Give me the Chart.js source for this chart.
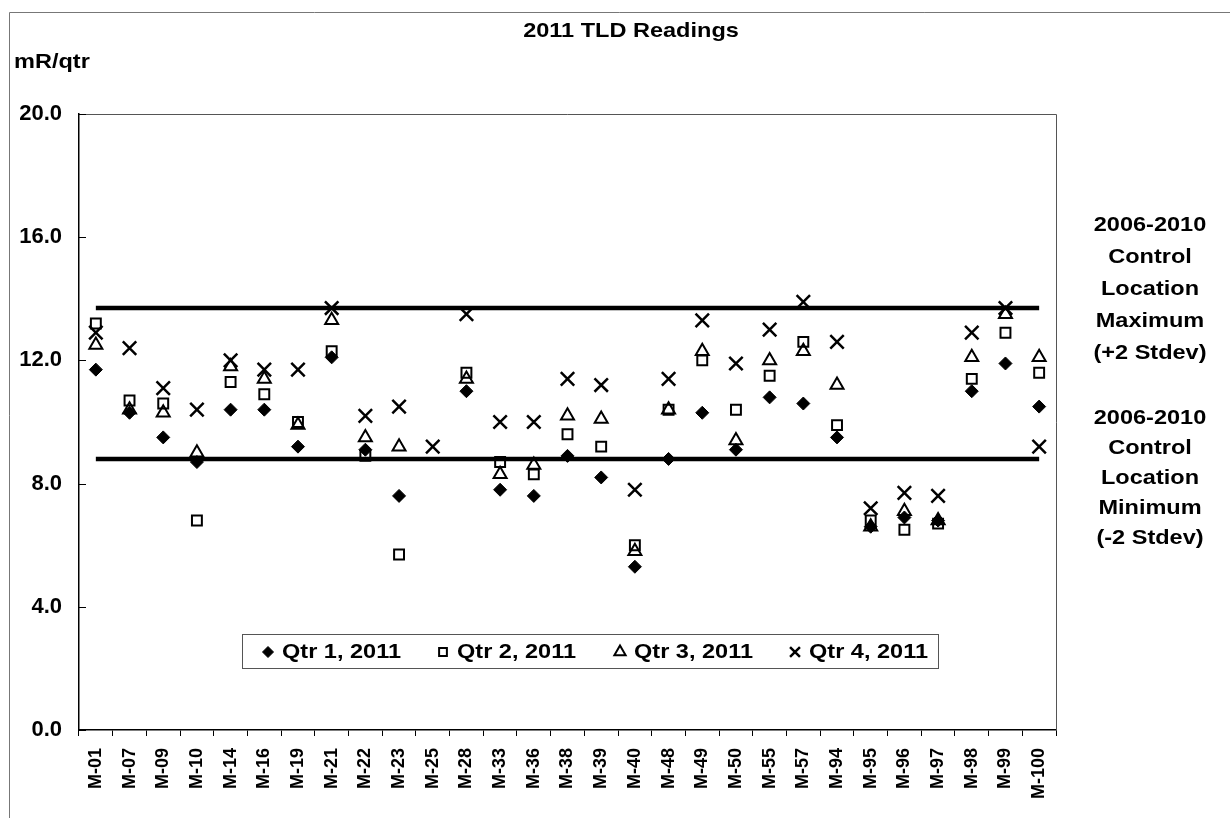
<!DOCTYPE html>
<html>
<head>
<meta charset="utf-8">
<title>2011 TLD Readings</title>
<script src="https://cdn.jsdelivr.net/npm/chart.js"></script>
<style>
    html, body { margin: 0; padding: 0; background: #fff; }
    #wrap { width: 1230px; height: 818px; position: relative; }
</style>
</head>
<body>
<div id="wrap"><canvas id="tldChart"></canvas></div>
<script>
var locations = ['M-01', 'M-07', 'M-09', 'M-10', 'M-14', 'M-16', 'M-19', 'M-21', 'M-22', 'M-23',
    'M-25', 'M-28', 'M-33', 'M-36', 'M-38', 'M-39', 'M-40', 'M-48', 'M-49', 'M-50',
    'M-55', 'M-57', 'M-94', 'M-95', 'M-96', 'M-97', 'M-98', 'M-99', 'M-100'];
var qtr1 = [11.7, 10.3, 9.5, 8.7, 10.4, 10.4, 9.2, 12.1, 9.1, 7.6,
    null, 11.0, 7.8, 7.6, 8.9, 8.2, 5.3, 8.8, 10.3, 9.1,
    10.8, 10.6, 9.5, 6.6, 6.9, 6.8, 11.0, 11.9, 10.5];
var qtr2 = [13.2, 10.7, 10.6, 6.8, 11.3, 10.9, 10.0, 12.3, 8.9, 5.7,
    null, 11.6, 8.7, 8.3, 9.6, 9.2, 6.0, 10.4, 12.0, 10.4,
    11.5, 12.6, 9.9, 6.8, 6.5, 6.7, 11.4, 12.9, 11.6];
var qtr3 = [12.5, 10.4, 10.3, 9.0, 11.8, 11.4, 9.9, 13.3, 9.5, 9.2,
    null, 11.4, 8.3, 8.6, 10.2, 10.1, 5.8, 10.4, 12.3, 9.4,
    12.0, 12.3, 11.2, 6.6, 7.1, 6.8, 12.1, 13.5, 12.1];
var qtr4 = [12.9, 12.4, 11.1, 10.4, 12.0, 11.7, 11.7, 13.7, 10.2, 10.5,
    9.2, 13.5, 10.0, 10.0, 11.4, 11.2, 7.8, 11.4, 13.3, 11.9,
    13.0, 13.9, 12.6, 7.2, 7.7, 7.6, 12.9, 13.7, 9.2];
var controlMax = 13.7;
var controlMin = 8.8;
var yTicks = [0, 4, 8, 12, 16, 20];
var chartTitle = '2011 TLD Readings';
var unitLabel = 'mR/qtr';
var maxNote = ['2006-2010', 'Control', 'Location', 'Maximum', '(+2 Stdev)'];
var minNote = ['2006-2010', 'Control', 'Location', 'Minimum', '(-2 Stdev)'];

var fontFamily = '"Liberation Sans", Arial, sans-serif';
var boldFont = 'bold 21px ' + fontFamily;

function levelLine(v) {
    return locations.map(function () { return v; });
}

// the scan is a little wider than tall, so stretch the plain text a bit
function fillWide(ctx, text, x, y, align) {
    ctx.save();
    ctx.translate(x, y);
    ctx.scale(1.12, 1);
    ctx.textAlign = align;
    ctx.fillText(text, 0, 0);
    ctx.restore();
}

function drawMarker(ctx, ds, x, y, r) {
    var opts = { pointStyle: ds.pointStyle, radius: r, rotation: 0, borderWidth: ds.borderWidth };
    ctx.save();
    ctx.fillStyle = ds.pointBackgroundColor;
    ctx.strokeStyle = ds.pointBorderColor;
    ctx.lineWidth = ds.borderWidth;
    Chart.helpers.drawPoint(ctx, opts, x, y);
    ctx.restore();
}

var extrasPlugin = {
    id: 'extras',
    afterDraw: function (chart) {
        var ctx = chart.ctx;
        var area = chart.chartArea;
        var yScale = chart.scales.y;
        ctx.save();

        // outer frame
        ctx.strokeStyle = '#777';
        ctx.lineWidth = 1;
        ctx.beginPath();
        ctx.moveTo(9.5, 818);
        ctx.lineTo(9.5, 12.5);
        ctx.lineTo(1230, 12.5);
        ctx.stroke();

        // top and right edge of plot area
        ctx.strokeStyle = '#555';
        ctx.beginPath();
        ctx.moveTo(area.left, area.top + 0.5);
        ctx.lineTo(area.right + 0.5, area.top + 0.5);
        ctx.lineTo(area.right + 0.5, area.bottom);
        ctx.stroke();

        // y tick marks point inward
        ctx.strokeStyle = '#000';
        ctx.lineWidth = 1;
        yTicks.forEach(function (v) {
            var py = Math.round(yScale.getPixelForValue(v)) + 0.5;
            ctx.beginPath();
            ctx.moveTo(area.left, py);
            ctx.lineTo(area.left + 7, py);
            ctx.stroke();
        });

        ctx.fillStyle = '#000';
        ctx.font = boldFont;
        ctx.textBaseline = 'middle';
        fillWide(ctx, chartTitle, 631, 31, 'center');
        fillWide(ctx, unitLabel, 14, 62, 'left');

        maxNote.forEach(function (t, i) { fillWide(ctx, t, 1150, 225 + i * 32, 'center'); });
        minNote.forEach(function (t, i) { fillWide(ctx, t, 1150, 418 + i * 30, 'center'); });

        // legend box
        ctx.strokeStyle = '#555';
        ctx.lineWidth = 1;
        ctx.strokeRect(242.5, 634.5, 696, 34);
        var markX = [268, 443, 620, 795];
        var sizes = [5.5, 5.5, 6.5, 7];
        var series = chart.data.datasets.filter(function (d) { return d.inLegend; });
        series.forEach(function (ds, i) {
            drawMarker(ctx, ds, markX[i], 652, sizes[i]);
            ctx.fillStyle = '#000';
            ctx.font = boldFont;
            fillWide(ctx, ds.label, markX[i] + 14, 652, 'left');
        });
        ctx.restore();
    }
};

var ctx = document.getElementById('tldChart').getContext('2d');
var tldChart = new Chart(ctx, {
    type: 'line',
    data: {
        labels: locations,
        datasets: [{
            label: 'Qtr 1, 2011',
            data: qtr1,
            inLegend: true,
            showLine: false,
            pointStyle: 'rectRot',
            pointRadius: 6.5,
            pointBackgroundColor: '#000',
            pointBorderColor: '#000',
            borderWidth: 1
        }, {
            label: 'Qtr 2, 2011',
            data: qtr2,
            inLegend: true,
            showLine: false,
            pointStyle: 'rect',
            pointRadius: 7,
            pointBackgroundColor: 'rgba(0,0,0,0)',
            pointBorderColor: '#000',
            borderWidth: 2
        }, {
            label: 'Qtr 3, 2011',
            data: qtr3,
            inLegend: true,
            showLine: false,
            pointStyle: 'triangle',
            pointRadius: 7.5,
            pointBackgroundColor: 'rgba(0,0,0,0)',
            pointBorderColor: '#000',
            borderWidth: 2
        }, {
            label: 'Qtr 4, 2011',
            data: qtr4,
            inLegend: true,
            showLine: false,
            pointStyle: 'crossRot',
            pointRadius: 9.5,
            pointBackgroundColor: 'rgba(0,0,0,0)',
            pointBorderColor: '#000',
            borderWidth: 2.5
        }, {
            label: 'Control Maximum',
            data: levelLine(controlMax),
            pointRadius: 0,
            borderColor: '#000',
            borderWidth: 4.5,
            fill: false
        }, {
            label: 'Control Minimum',
            data: levelLine(controlMin),
            pointRadius: 0,
            borderColor: '#000',
            borderWidth: 4.5,
            fill: false
        }]
    },
    options: {
        responsive: true,
        maintainAspectRatio: false,
        animation: false,
        devicePixelRatio: 1,
        layout: { padding: { top: 114, right: 174, bottom: 0, left: 0 } },
        plugins: {
            legend: { display: false },
            tooltip: { enabled: false },
            title: { display: false }
        },
        scales: {
            x: {
                offset: true,
                afterFit: function (scale) { scale.height = 88; },
                grid: { offset: true, drawOnChartArea: false, tickLength: 6, color: '#000' },
                border: { color: '#000', width: 1.5 },
                ticks: {
                    autoSkip: false,
                    minRotation: 90,
                    maxRotation: 90,
                    padding: 12,
                    color: '#000',
                    font: { family: fontFamily, size: 18, weight: 'bold' }
                }
            },
            y: {
                min: 0,
                max: 20,
                afterFit: function (scale) { scale.width = 79; },
                afterBuildTicks: function (axis) {
                    axis.ticks = yTicks.map(function (v) { return { value: v }; });
                },
                grid: { drawOnChartArea: false, drawTicks: false },
                border: { color: '#000', width: 1.5 },
                ticks: {
                    padding: 17,
                    color: '#000',
                    font: { family: fontFamily, size: 22, weight: 'bold' },
                    callback: function (v) { return Number(v).toFixed(1); }
                }
            }
        }
    },
    plugins: [extrasPlugin]
});
</script>
</body>
</html>
